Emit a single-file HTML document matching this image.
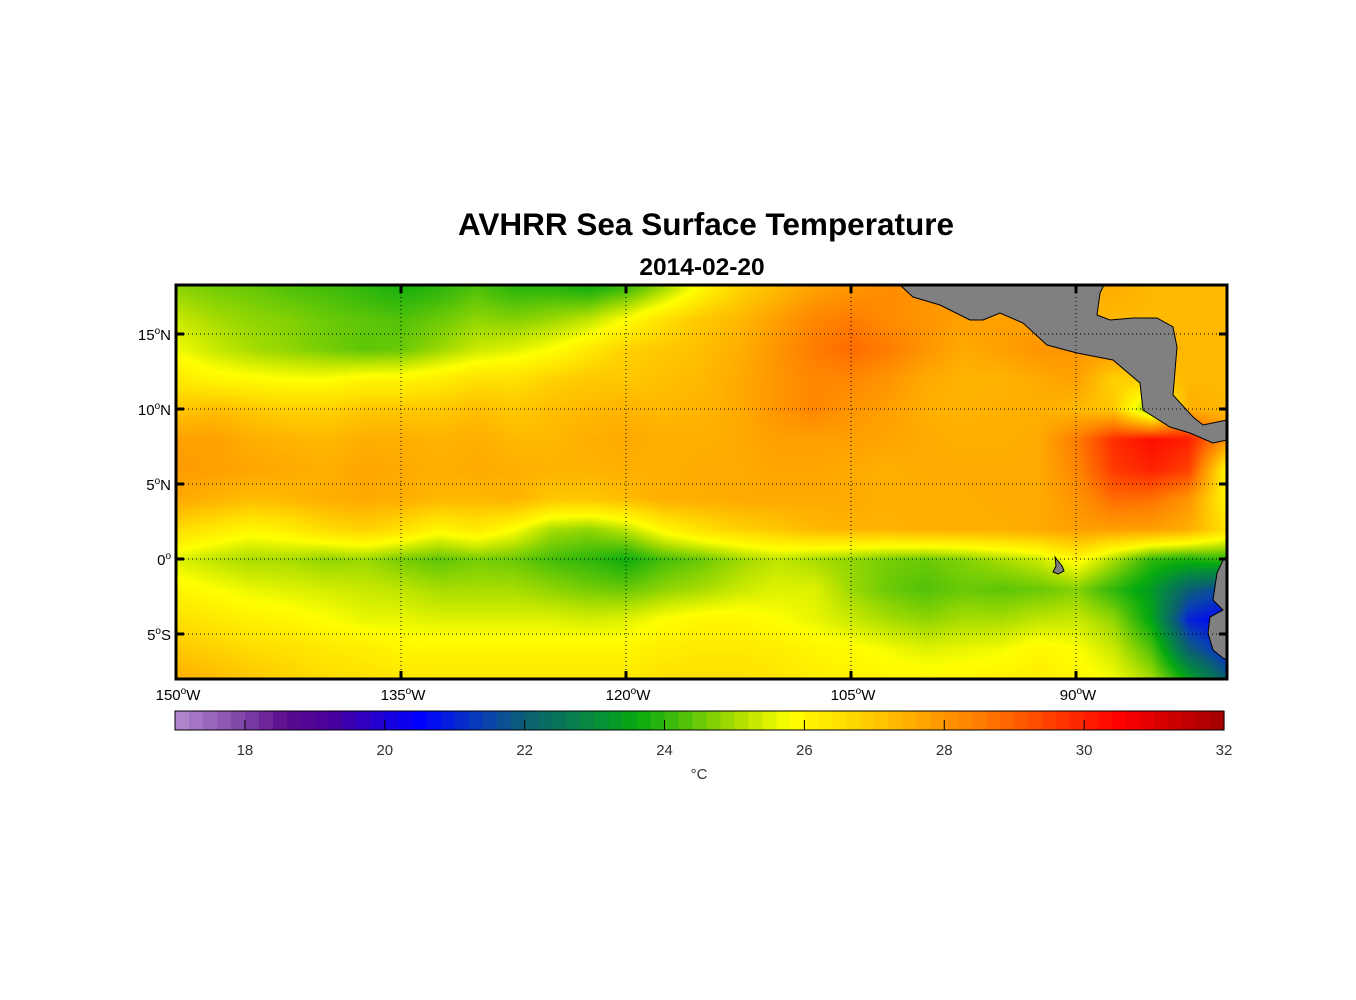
<!DOCTYPE html>
<html><head><meta charset="utf-8"><style>
body{margin:0;background:#fff;width:1356px;height:1000px;overflow:hidden;font-family:"Liberation Sans",Arial,sans-serif}
#root{position:relative;width:1356px;height:1000px}
</style></head><body><div id="root">
<svg id="svg" width="1356" height="1000" style="position:absolute;left:0;top:0">
<text x="706" y="235" text-anchor="middle" font-size="31.5" font-weight="bold" font-family="Liberation Sans">AVHRR Sea Surface Temperature</text>
<text x="702" y="275" text-anchor="middle" font-size="24.5" font-weight="bold" font-family="Liberation Sans">2014-02-20</text>
<foreignObject x="176" y="285" width="1051" height="394"><canvas id="cv" width="1051" height="394" xmlns="http://www.w3.org/1999/xhtml"></canvas></foreignObject>
<g id="land"></g>
<g id="grid"></g>
<g id="axes"></g>
<g id="cbar"></g>
<text x="699" y="779" text-anchor="middle" font-size="15" fill="#333" font-family="Liberation Sans">°C</text>
</svg>
</div>
<script>
const lons=[-150,-147.5,-145,-142.5,-140,-137.5,-135,-132.5,-130,-127.5,-125,-122.5,-120,-117.5,-115,-112.5,-110,-107.5,-105,-102.5,-100,-97.5,-95,-92.5,-90,-87.5,-85,-82.5,-80];
const lats=[18,16,14,12,10,8,6,4,2,0,-2,-4,-6,-8];
const sst=[
[24.8,24.6,24.5,24.3,24.2,24.0,23.8,24.0,24.3,24.0,24.0,23.8,24.2,25.0,26.0,26.8,27.3,27.8,28.0,28.2,28.0,28.0,27.5,27.5,27.5,27.5,27.3,27.3,27.3],
[25.3,25.0,24.8,24.7,24.5,24.4,24.3,24.5,24.8,24.7,24.9,25.2,25.8,26.5,27.0,27.3,27.8,28.3,28.5,28.2,28.0,27.8,27.8,27.8,27.5,27.3,27.3,27.3,27.3],
[25.7,25.3,25.0,24.8,24.6,24.4,24.5,24.9,25.3,25.5,25.8,26.3,26.8,27.0,27.2,27.5,28.0,28.5,28.8,28.5,28.0,27.6,27.8,28.0,28.0,28.0,27.5,27.3,27.3],
[26.3,26.0,25.9,25.8,25.8,26.0,26.0,26.2,26.5,26.5,26.8,27.0,27.0,27.2,27.3,27.6,28.0,28.3,28.3,28.0,27.6,27.4,27.4,27.6,27.8,26.8,27.0,27.3,27.3],
[27.0,27.2,27.0,26.8,26.8,27.0,27.0,27.0,27.2,27.0,27.2,27.3,27.4,27.3,27.4,27.6,28.0,28.3,28.0,27.8,27.5,27.4,27.5,27.5,27.3,27.0,24.5,27.5,27.3],
[27.8,27.8,27.5,27.4,27.3,27.5,27.5,27.4,27.5,27.3,27.3,27.5,27.6,27.5,27.5,27.6,27.8,27.8,27.8,27.7,27.6,27.5,27.5,27.6,28.5,29.8,30.3,30.0,28.0],
[27.9,27.8,27.7,27.6,27.5,27.7,27.6,27.5,27.6,27.5,27.4,27.4,27.5,27.5,27.6,27.6,27.7,27.7,27.6,27.5,27.6,27.6,27.6,27.6,28.3,29.6,30.0,29.5,26.0],
[27.6,27.4,27.2,27.3,27.5,27.6,27.5,27.3,27.3,27.4,27.0,27.0,27.2,27.5,27.5,27.6,27.6,27.6,27.6,27.5,27.5,27.5,27.6,27.6,28.0,28.8,28.7,28.0,26.0],
[26.6,26.3,26.0,26.2,26.6,26.8,26.5,26.0,26.3,25.8,25.0,24.8,25.2,26.0,26.5,26.8,27.0,27.3,27.4,27.4,27.5,27.5,27.5,27.6,27.8,27.8,27.8,27.5,26.5],
[25.5,25.2,25.0,25.0,24.8,24.9,24.6,24.4,24.6,24.5,24.2,24.0,23.7,24.2,24.5,24.9,25.2,25.0,24.8,24.6,24.5,24.7,25.0,25.3,26.0,25.0,24.0,23.8,24.0],
[26.0,25.8,25.6,25.5,25.4,25.3,25.2,25.0,25.0,25.0,24.8,24.6,24.5,24.8,25.0,25.3,25.5,25.5,24.9,24.5,24.3,24.5,24.4,24.5,24.7,24.0,23.3,22.0,21.5],
[26.5,26.3,26.1,26.0,25.8,25.6,25.6,25.5,25.5,25.5,25.5,25.4,25.5,25.8,26.0,26.0,25.8,25.6,25.3,25.0,24.8,25.0,25.0,25.2,25.3,24.8,23.5,21.0,20.5],
[27.0,26.8,26.6,26.5,26.3,26.2,26.0,26.0,26.0,26.0,26.0,26.0,26.0,26.2,26.3,26.3,26.2,26.0,25.9,25.7,25.5,25.6,25.7,26.0,25.8,25.3,24.3,22.0,21.0],
[27.5,27.3,27.0,26.8,26.6,26.5,26.4,26.3,26.3,26.3,26.3,26.3,26.3,26.5,26.5,26.5,26.4,26.2,26.1,26.0,26.0,26.0,26.1,26.2,26.0,25.7,25.0,23.5,22.0]];
const lonTicks=[-150,-135,-120,-105,-90];
const lonTickLabels=["150","135","120","105","90"];
const latTicks=[15,10,5,0,-5];
const latTickLabels=["15","10","5","0","5"];
const latTickSuffix=["N","N","N","",'S'];
const cbarTicks=[18,20,22,24,26,28,30,32];

const X0=176,X1=1227,Y0=285,Y1=679;
const xOf=lon=>X0+(lon+150)*15;
const yOf=lat=>559-lat*15;
const cmin=17,cmax=32;
const cx=v=>175+(v-cmin)*(1224-175)/(cmax-cmin);
const stops=[[17,[180,140,210]],[18,[125,65,165]],[18.6,[90,10,140]],[19.3,[70,0,160]],[20.5,[0,0,255]],[21.5,[10,70,170]],[22,[10,95,115]],[23,[5,140,60]],[23.6,[5,170,15]],[24.2,[70,190,10]],[25.1,[180,225,0]],[25.8,[255,255,0]],[26.5,[255,225,0]],[27.5,[255,175,0]],[28.5,[255,125,0]],[29.5,[255,65,0]],[30.5,[255,0,0]],[32,[160,0,0]]];
function color(v){
  if(v<=stops[0][0])return stops[0][1];
  for(let i=1;i<stops.length;i++){if(v<=stops[i][0]){const a=stops[i-1],b=stops[i],t=(v-a[0])/(b[0]-a[0]);return a[1].map((c,k)=>Math.round(c+(b[1][k]-c)*t));}}
  return stops[stops.length-1][1];
}
function sample(lon,lat){
  let fi=(lon-lons[0])/(lons[1]-lons[0]);fi=Math.max(0,Math.min(lons.length-1.0001,fi));
  let fj=(lats[0]-lat)/(lats[0]-lats[1]);fj=Math.max(0,Math.min(lats.length-1.0001,fj));
  const i=Math.floor(fi),j=Math.floor(fj),u=fi-i,w=fj-j;
  const a=sst[j][i],b=sst[j][i+1],c=sst[j+1][i],d=sst[j+1][i+1];
  return a*(1-u)*(1-w)+b*u*(1-w)+c*(1-u)*w+d*u*w;
}
const cv=document.getElementById('cv'),ctx=cv.getContext('2d');
const img=ctx.createImageData(1051,394);
for(let py=0;py<394;py++){const lat=(559-(py+Y0))/15;for(let px=0;px<1051;px++){const lon=px/15-150;const c=color(sample(lon,lat));const o=(py*1051+px)*4;img.data[o]=c[0];img.data[o+1]=c[1];img.data[o+2]=c[2];img.data[o+3]=255;}}
ctx.putImageData(img,0,0);

const NS='http://www.w3.org/2000/svg';
function mk(tag,attrs,parent){const e=document.createElementNS(NS,tag);for(const k in attrs)e.setAttribute(k,attrs[k]);parent.appendChild(e);return e;}
const land=document.getElementById('land');
const ca="900,285 913,297 940,305 970,320 983,320 1000,313 1023,323 1047,345 1077,353 1113,360 1140,383 1143,410 1170,427 1190,433 1213,443 1227,440 1227,420 1203,425 1193,417 1173,395 1177,347 1173,327 1157,318 1133,318 1110,320 1097,315 1100,293 1104,285";
let p=mk('polygon',{points:ca,fill:'#808080',stroke:'#000','stroke-width':1},land);

p=mk('polygon',{points:"1227,558 1223,560 1217,573 1213,600 1223,610 1210,617 1208,633 1213,650 1223,658 1227,660",fill:'#808080',stroke:'#000','stroke-width':1},land);

p=mk('polygon',{points:"1055,557 1062,566 1064,571 1058,574 1053,572 1056,566",fill:'#808080',stroke:'#000','stroke-width':1},land);


const grid=document.getElementById('grid'),axes=document.getElementById('axes');
lonTicks.forEach((lon,i)=>{const x=xOf(lon);
  if(i>0){const l=mk('line',{x1:x,y1:Y0,x2:x,y2:Y1,stroke:'#000','stroke-width':1,'stroke-dasharray':'1,3'},grid);}
  const t1=mk('line',{x1:x,y1:Y0,x2:x,y2:Y0+8,stroke:'#000','stroke-width':3},axes);
  const t2=mk('line',{x1:x,y1:Y1-8,x2:x,y2:Y1,stroke:'#000','stroke-width':3},axes);
  const tx=mk('text',{x:x+2,y:700,'text-anchor':'middle','font-size':15,'font-family':'Liberation Sans'},axes);
  
  tx.innerHTML=lonTickLabels[i]+'<tspan dy="-6" font-size="10">o</tspan><tspan dy="6">W</tspan>';
});
latTicks.forEach((lat,i)=>{const y=yOf(lat);
  const l=mk('line',{x1:X0,y1:y,x2:X1,y2:y,stroke:'#000','stroke-width':1,'stroke-dasharray':'1,3'},grid);
  const t1=mk('line',{x1:X0,y1:y,x2:X0+8,y2:y,stroke:'#000','stroke-width':3},axes);
  const t2=mk('line',{x1:X1-8,y1:y,x2:X1,y2:y,stroke:'#000','stroke-width':3},axes);
  const tx=mk('text',{x:171,y:y+6,'text-anchor':'end','font-size':15,'font-family':'Liberation Sans'},axes);
  
  tx.innerHTML=latTickLabels[i]+'<tspan dy="-6" font-size="10">o</tspan><tspan dy="6">'+latTickSuffix[i]+'</tspan>';
});
const fr=mk('rect',{x:X0,y:Y0,width:X1-X0,height:Y1-Y0,fill:'none',stroke:'#000','stroke-width':3},axes);


const cb=document.getElementById('cbar');
const step=0.2;
for(let v=cmin;v<cmax-1e-6;v+=step){const c=color(v+step/2);
  const r=mk('rect',{x:cx(v),y:711,width:cx(v+step)-cx(v)+0.6,height:19,fill:'rgb('+c.join(',')+')'},cb);
  }
const cf=mk('rect',{x:175,y:711,width:1049,height:19,fill:'none',stroke:'#000','stroke-width':1},cb);

cbarTicks.forEach(v=>{const x=cx(v);
  const l=mk('line',{x1:x,y1:720,x2:x,y2:730,stroke:'#000','stroke-width':1},cb);
  const t=mk('text',{x:x,y:755,'text-anchor':'middle','font-size':15,fill:'#333','font-family':'Liberation Sans'},cb);
  t.textContent=v;});
</script>
</body></html>
